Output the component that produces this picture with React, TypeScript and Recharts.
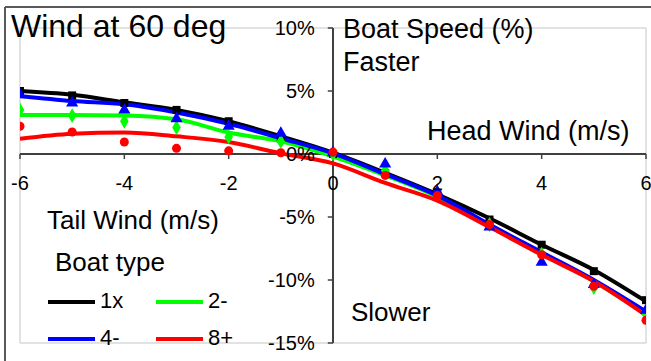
import {
  ComposedChart,
  Line,
  Scatter,
  XAxis,
  YAxis,
  CartesianGrid,
  ReferenceLine,
} from 'recharts';

const WIND = [-6, -5, -4, -3, -2, -1, 0, 1, 2, 3, 4, 5, 6];
const X_TICKS = [-6, -4, -2, 0, 2, 4, 6];
const Y_TICKS = [-15, -10, -5, 0, 5, 10];

// fitted curves (%)
const FIT_1X = [5.0, 4.7, 4.1, 3.5, 2.6, 1.4, 0.1, -1.5, -3.2, -5.1, -7.2, -9.2, -11.7];
const FIT_2M = [3.1, 3.1, 3.05, 2.75, 1.7, 1.0, -0.2, -1.7, -3.4, -5.7, -7.9, -10.1, -12.7];
const FIT_4M = [4.6, 4.2, 3.95, 3.3, 2.4, 1.25, 0.05, -1.6, -3.3, -5.6, -7.8, -10.0, -12.5];
const FIT_8P = [1.2, 1.6, 1.7, 1.4, 0.95, 0.05, -0.75, -2.3, -3.7, -5.8, -8.0, -10.1, -12.8];

// measured points (%)
const OBS_1X = [5.0, 4.65, 4.05, 3.5, 2.6, 1.3, 0.0, -1.5, -3.1, -5.2, -7.2, -9.3, -11.6];
const OBS_2M = [3.5, 3.05, 2.6, 2.1, 1.35, 1.0, 0.0, -1.3, -3.1, -5.6, -7.95, -10.6, -12.7];
const OBS_4M = [4.7, 4.05, 3.5, 2.8, 2.2, 1.65, 0.1, -0.8, -3.0, -5.8, -8.6, -10.35, -12.4];
const OBS_8P = [2.2, 1.75, 0.95, 0.45, 0.25, 0.1, 0.15, -1.7, -3.3, -5.6, -8.0, -10.5, -13.2];

const toPoints = (ys: number[]) => WIND.map((x, i) => ({ x, y: ys[i] }));

const SERIES = [
  { name: '1x', color: '#000000', fit: FIT_1X, obs: OBS_1X, shape: 'square' },
  { name: '2-', color: '#00ff00', fit: FIT_2M, obs: OBS_2M, shape: 'diamond' },
  { name: '4-', color: '#0000ff', fit: FIT_4M, obs: OBS_4M, shape: 'triangle' },
  { name: '8+', color: '#ff0000', fit: FIT_8P, obs: OBS_8P, shape: 'circle' },
] as const;

const FONT = '"Liberation Sans", Arial, sans-serif';
const W = 651;
const H = 361;

export default function App() {
  return (
    <div
      style={{
        position: 'absolute',
        left: 0,
        top: 0,
        width: W,
        height: H,
        background: '#fff',
        overflow: 'hidden',
        fontFamily: FONT,
      }}
    >
      <ComposedChart
        width={W}
        height={H}
        margin={{ top: 28, right: 5, bottom: 18, left: 20 }}
        style={{ fontFamily: FONT }}
      >
        <CartesianGrid stroke="#d9d9d9" strokeWidth={1.5} />
        <XAxis
          type="number"
          dataKey="x"
          domain={[-6, 6]}
          ticks={X_TICKS}
          height={0}
          tick={false}
          axisLine={false}
          tickLine={false}
          allowDataOverflow
        />
        <YAxis
          type="number"
          dataKey="y"
          domain={[-15, 10]}
          ticks={Y_TICKS}
          width={0}
          tick={false}
          axisLine={false}
          tickLine={false}
          allowDataOverflow
        />
        <ReferenceLine x={0} stroke="#404040" strokeWidth={2} />
        <ReferenceLine y={0} stroke="#404040" strokeWidth={2} />
        {Y_TICKS.map((v) => (
          <ReferenceLine
            key={`y${v}`}
            segment={[{ x: -0.1, y: v }, { x: 0, y: v }]}
            stroke="#404040"
            strokeWidth={1.5}
            label={{ value: `${v}%`, position: 'left', offset: 13, fill: '#000', fontSize: 20 }}
          />
        ))}
        {X_TICKS.map((v) => (
          <ReferenceLine
            key={`x${v}`}
            segment={[{ x: v, y: 0 }, { x: v, y: -0.4 }]}
            stroke="#404040"
            strokeWidth={1.5}
            label={{ value: `${v}`, position: 'bottom', offset: 17, fill: '#000', fontSize: 20 }}
          />
        ))}
        {SERIES.map((s) => (
          <Line
            key={`fit-${s.name}`}
            data={toPoints(s.fit)}
            dataKey="y"
            type="monotone"
            stroke={s.color}
            strokeWidth={4}
            dot={false}
            isAnimationActive={false}
          />
        ))}
        {SERIES.map((s) => (
          <Scatter
            key={`obs-${s.name}`}
            data={toPoints(s.obs)}
            fill={s.color}
            shape={s.shape}
            isAnimationActive={false}
          />
        ))}
      </ComposedChart>

      <svg
        width={W}
        height={H}
        style={{ position: 'absolute', left: 0, top: 0, pointerEvents: 'none' }}
        fontFamily={FONT}
      >
        <line x1={5} y1={7} x2={W} y2={7} stroke="#595959" strokeWidth={2} />
        <line x1={5} y1={7} x2={5} y2={H} stroke="#595959" strokeWidth={2} />
        <text x={11} y={37} fontSize={32}>Wind at 60 deg</text>
        <text x={343} y={38} fontSize={27}>Boat Speed (%)</text>
        <text x={343} y={71} fontSize={27}>Faster</text>
        <text x={427} y={140} fontSize={27}>Head Wind (m/s)</text>
        <text x={47} y={229} fontSize={26}>Tail Wind (m/s)</text>
        <text x={55} y={271} fontSize={26}>Boat type</text>
        <text x={351} y={321} fontSize={26}>Slower</text>
        {SERIES.map((s, i) => {
          const col = i === 0 || i === 2 ? 0 : 1;
          const row = i < 2 ? 0 : 1;
          const lx = col === 0 ? 48 : 156;
          const ly = row === 0 ? 302 : 339;
          return (
            <g key={s.name}>
              <line x1={lx} y1={ly} x2={lx + 47} y2={ly} stroke={s.color} strokeWidth={4} />
              <text x={lx + 52} y={ly + 6} fontSize={22}>{s.name}</text>
            </g>
          );
        })}
      </svg>
    </div>
  );
}
